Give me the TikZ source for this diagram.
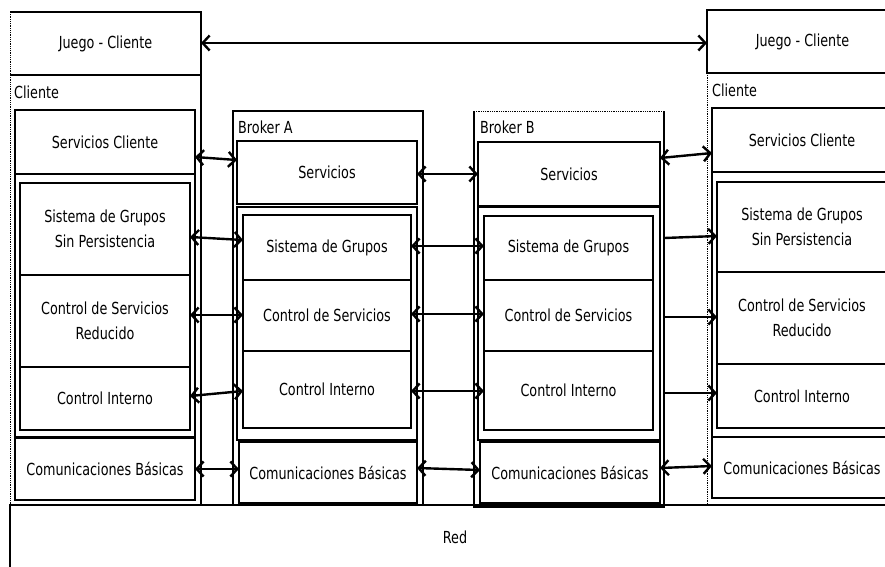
\documentclass[tikz,border=0pt]{standalone}
\usepackage{fontspec}
\setmainfont{DejaVu Sans}[FakeStretch=0.77]
\usetikzlibrary{arrows.meta}
\tikzset{
  txt/.style={font=\fontsize{16.6}{24.5}\selectfont},
  box/.style={draw, line width=2.5pt, inner sep=0pt, outer sep=0pt, align=center, txt},
  frame/.style={inner sep=0pt, outer sep=0pt},
  tag/.style={anchor=west, inner sep=0pt, txt},
  heavy/.style={line width=2.5pt},
  faint/.style={line width=0.8pt, densely dotted},
  tip/.tip={Straight Barb[length=7pt,width=15pt]},
  link/.style={line width=2.4pt, tip-tip},
  oneway/.style={line width=2.4pt, -tip},
}
% \blk{name}{x1}{y1}{x2}{y2}{text}: drawn box between two corners
\newcommand\blk[6]{\node[box, minimum width={#4-#2}, minimum height={#5-#3}]
  (#1) at ({(#2+#4)/2},{(#3+#5)/2}) {#6};}
% \frm{name}{x1}{y1}{x2}{y2}: undrawn area, outlined by hand
\newcommand\frm[5]{\node[frame, minimum width={#4-#2}, minimum height={#5-#3}]
  (#1) at ({(#2+#4)/2},{(#3+#5)/2}) {};}
% \conn{style}{from}{y}{to}{y}: horizontal-ish link between layers
\newcommand\conn[5]{\draw[#1] (#2.east |- 0,#3) -- (#4.west |- 0,#5);}
\begin{document}
\begin{tikzpicture}[x=1pt,y=-1pt]
\clip (0,0) rectangle (885,566);

% ---------- left client ----------
\frm{Ljuego}{10}{12}{201}{75}
\node[txt] (Ljtext) at (Ljuego) {Juego - Cliente};
\frm{Lcli}{10}{75}{201}{505}
\draw[heavy] (Ljuego.north west) -- (Ljuego.north east) -- (Lcli.south east);
\draw[heavy] (Ljuego.south west) -- (Ljuego.south east);
\draw[faint] (Ljuego.north west) -- (Lcli.south west);
\node[tag] (Lcap) at (14,92) {Cliente};
\blk{Lsc}{15}{110}{195}{174}{Servicios Cliente}
\blk{Lgrp}{15}{174}{195}{437}{}
\blk{Lsg}{20}{183}{190}{275}{Sistema de Grupos\\Sin Persistencia}
\blk{Lcs}{20}{275}{190}{367}{Control de Servicios\\Reducido}
\blk{Lci}{20}{367}{190}{430}{Control Interno}
\blk{Lcb}{15}{438}{195}{500}{Comunicaciones Básicas}

% ---------- broker A ----------
\blk{Abro}{233}{111}{423}{505}{}
\node[tag] (Acap) at (238,127) {Broker A};
\blk{Asv}{237}{141}{417}{204}{Servicios}
\blk{Agrp}{237}{207}{417}{440}{}
\blk{Asg}{243}{215}{411}{280}{Sistema de Grupos}
\blk{Acs}{243}{280}{411}{351}{Control de Servicios}
\blk{Aci}{243}{351}{411}{428}{Control Interno}
\blk{Acb}{239}{442}{417}{503}{Comunicaciones Básicas}

% ---------- broker B ----------
\frm{Bbro}{474}{111}{664}{507}
\draw[heavy] (Bbro.north west) -- (Bbro.south west) -- (Bbro.south east) -- (Bbro.north east);
\draw[faint] (Bbro.north west) -- (Bbro.north east);
\node[tag] (Bcap) at (480,127) {Broker B};
\blk{Bsv}{478}{142}{660}{206}{Servicios}
\blk{Bgrp}{478}{207}{660}{440}{}
\blk{Bsg}{484}{216}{653}{280}{Sistema de Grupos}
\blk{Bcs}{484}{280}{653}{351}{Control de Servicios}
\blk{Bci}{484}{351}{653}{430}{Control Interno}
\blk{Bcb}{480}{442}{660}{503}{Comunicaciones Básicas}

% ---------- right client ----------
\blk{Rjuego}{707}{10}{898}{73}{Juego - Cliente}
\frm{Rcli}{707}{73}{898}{505}
\draw[faint] (Rcli.north west) -- (Rcli.south west);
\draw[heavy] (Rcli.south west) -- (Rcli.south east);
\node[tag] (Rcap) at (712,90) {Cliente};
\blk{Rsc}{712}{108}{892}{172}{Servicios Cliente}
\blk{Rgrp}{712}{172}{892}{437}{}
\blk{Rsg}{717}{182}{887}{272}{Sistema de Grupos\\Sin Persistencia}
\blk{Rcs}{717}{272}{887}{364}{Control de Servicios\\Reducido}
\blk{Rci}{717}{364}{887}{428}{Control Interno}
\blk{Rcb}{712}{437}{892}{498}{Comunicaciones Básicas}

% ---------- network ----------
\frm{net}{10}{505}{900}{590}
\draw[heavy] (net.south west) -- (net.north west) -- (net.north east);
\node[txt] (netlbl) at (455,537) {Red};

% ---------- links ----------
\conn{link}{Ljuego}{43}{Rjuego}{43}
\conn{link}{Lsc}{157}{Asv}{160}
\conn{link}{Asv}{174}{Bsv}{174}
\conn{link}{Bsv}{158}{Rsc}{153}
\conn{link}{Lsg}{237}{Asg}{240}
\conn{link}{Asg}{246}{Bsg}{246}
\conn{oneway}{Bbro}{238}{Rsg}{236}
\conn{link}{Lcs}{315}{Acs}{315}
\conn{link}{Acs}{314}{Bcs}{314}
\conn{oneway}{Bbro}{317}{Rcs}{317}
\conn{link}{Lci}{396}{Aci}{391}
\conn{link}{Aci}{391}{Bci}{391}
\conn{oneway}{Bbro}{393}{Rci}{393}
\conn{link}{Lcb}{469}{Acb}{469}
\conn{link}{Acb}{468}{Bcb}{470}
\conn{link}{Bcb}{468}{Rcb}{466}
\end{tikzpicture}
\end{document}
